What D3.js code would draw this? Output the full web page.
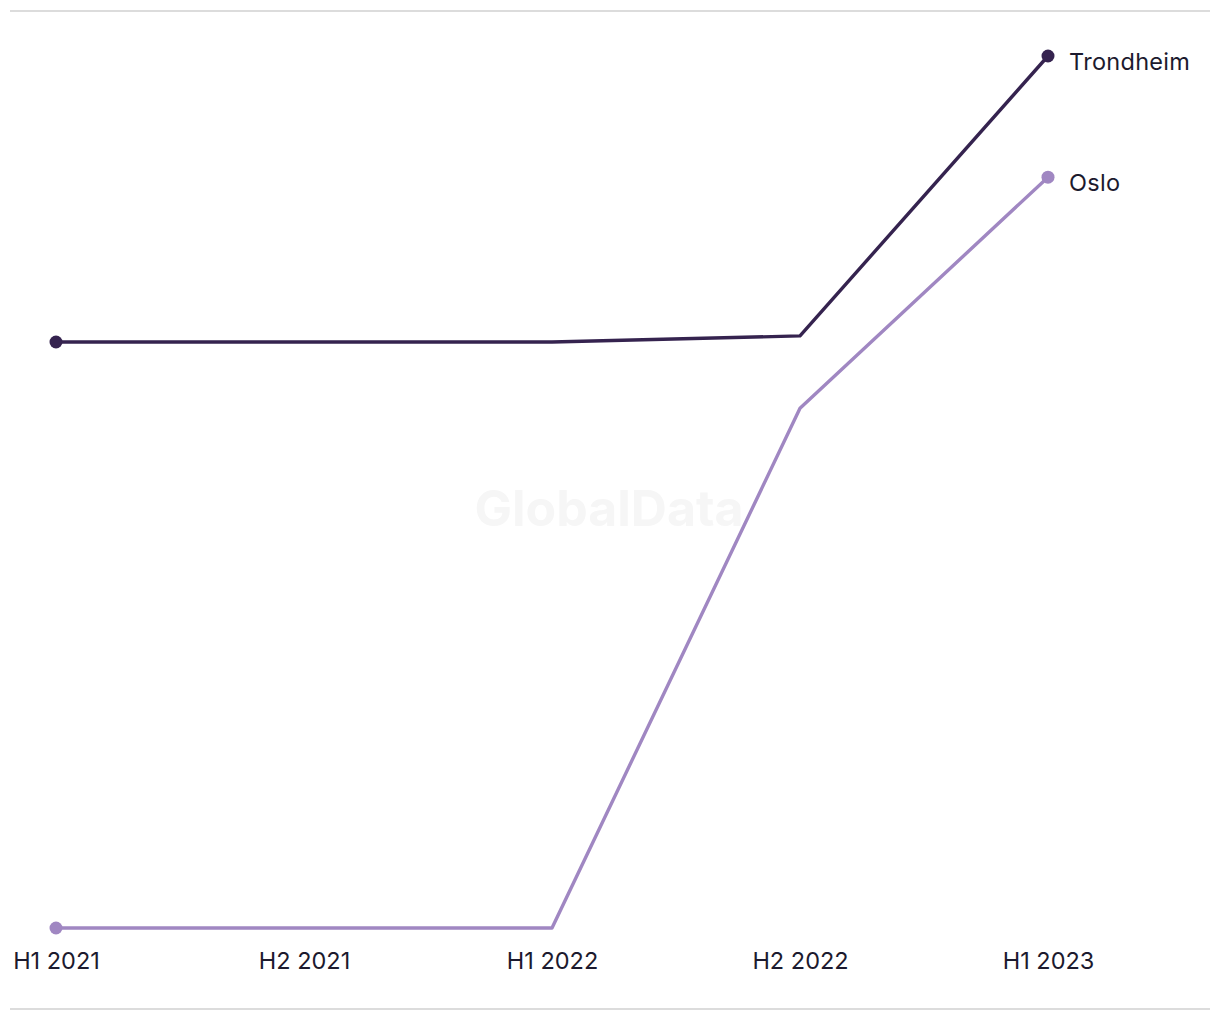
<!DOCTYPE html>
<html lang="en">
<head>
<meta charset="utf-8">
<title>Trondheim vs Oslo</title>
<script src="https://cdn.jsdelivr.net/npm/d3@7"></script>
<style>
  body { margin: 0; background: #fff; }
  svg text { font-family: "Inter", "Liberation Sans", sans-serif; }
  .tick-label { font-size: 23.5px; fill: #1c1a2e; }
  .series-label { font-size: 23.5px; fill: #1c1a2e; letter-spacing: 0.3px; }
  .rule { stroke: #dcdcdc; stroke-width: 2; }
</style>
</head>
<body>
<svg width="1220" height="1020"></svg>
<script>
// periods along x
var periods = ["H1 2021", "H2 2021", "H1 2022", "H2 2022", "H1 2023"];
// values (relative index, no axis shown)
var trondheim = [67.2, 67.2, 67.2, 67.9, 100];
var oslo = [0, 0, 0, 59.6, 86.1];
var seriesNames = ["Trondheim", "Oslo"];
var seriesColors = ["#35234f", "#a087c2"];

var series = [
  { name: seriesNames[0], color: seriesColors[0], values: trondheim },
  { name: seriesNames[1], color: seriesColors[1], values: oslo }
];

var svg = d3.select("svg");

var x = d3.scalePoint().domain(periods).range([56, 1048]);
var y = d3.scaleLinear().domain([0, 100]).range([928, 56]);

// top and bottom rules
svg.append("line").attr("class", "rule")
    .attr("x1", 10).attr("x2", 1210).attr("y1", 11).attr("y2", 11);
svg.append("line").attr("class", "rule")
    .attr("x1", 10).attr("x2", 1210).attr("y1", 1009).attr("y2", 1009);

// watermark
svg.append("text")
    .attr("x", 609).attr("y", 526)
    .attr("text-anchor", "middle")
    .style("font-size", "50px")
    .style("font-weight", "bold")
    .style("fill", "#f6f6f6")
    .text("GlobalData");

// x axis labels
var xAxis = d3.axisBottom(x).tickSize(0).tickPadding(0);
var gx = svg.append("g").attr("transform", "translate(0,950)").call(xAxis);
gx.select(".domain").remove();
gx.selectAll("text")
    .attr("class", "tick-label")
    .attr("dy", "0.8em")
    .style("font-family", null)
    .style("font-size", null)
    .attr("fill", null);

var line = d3.line()
    .x(function(d, i) { return x(periods[i]); })
    .y(function(d) { return y(d); });

var g = svg.selectAll(".series")
    .data(series)
    .enter().append("g")
    .attr("class", "series");

g.append("path")
    .attr("d", function(d) { return line(d.values); })
    .attr("fill", "none")
    .attr("stroke", function(d) { return d.color; })
    .attr("stroke-width", 3.4)
    .attr("stroke-linejoin", "round");

// markers at first and last points, name beside the last one
g.each(function(d) {
  var last = d.values.length - 1;
  var ends = [0, last];
  d3.select(this).selectAll("circle")
    .data(ends)
    .enter().append("circle")
      .attr("cx", function(i) { return x(periods[i]); })
      .attr("cy", function(i) { return y(d.values[i]); })
      .attr("r", 6.5)
      .attr("fill", d.color);
  d3.select(this).append("text")
      .attr("class", "series-label")
      .attr("x", x(periods[last]) + 21)
      .attr("y", y(d.values[last]) + 5)
      .attr("dy", "0.38em")
      .text(d.name);
});
</script>
</body>
</html>
